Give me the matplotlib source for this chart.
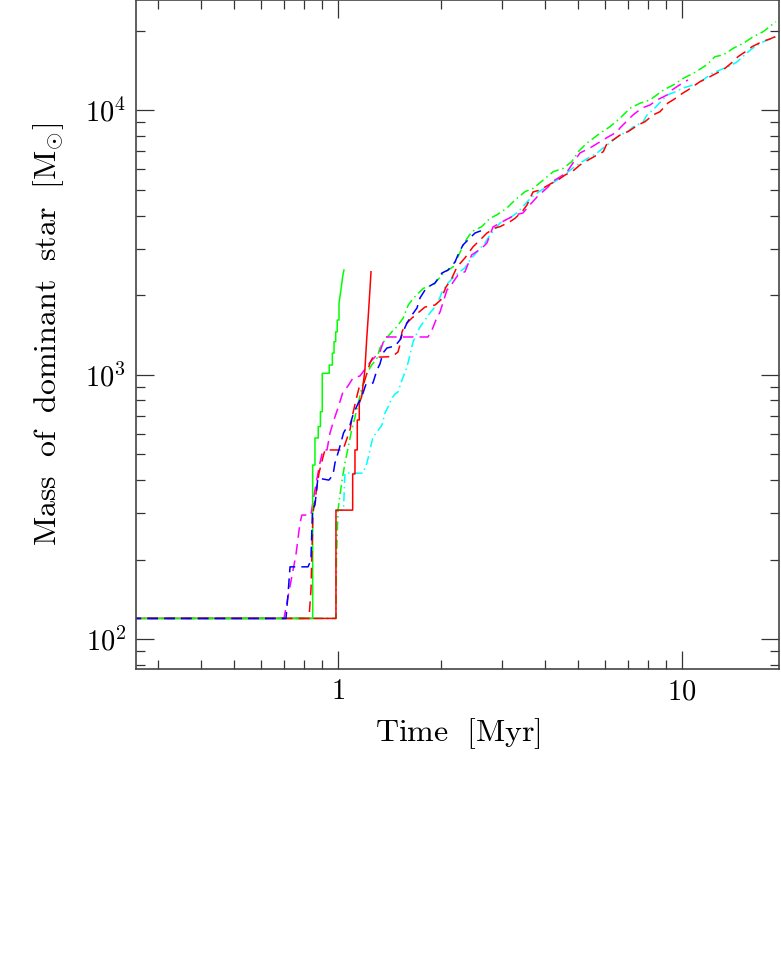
import numpy as np
import matplotlib
matplotlib.use('Agg')
import matplotlib.pyplot as plt
from matplotlib.ticker import LogLocator, FixedLocator, FuncFormatter, NullFormatter

plt.rcParams['mathtext.fontset'] = 'cm'
plt.rcParams['font.family'] = 'serif'

# Mass of the dominant star [Msun] vs time [Myr]
red_solid_t = [0.25, 0.9887, 0.9887, 1.1057, 1.1057, 1.1227, 1.1227, 1.1402, 1.1402, 1.1555, 1.1555,
               1.174, 1.200, 1.214, 1.227, 1.241, 1.250]
red_solid_m = [120, 120, 308, 308, 422, 422, 520, 520, 675, 675, 780, 826, 1043, 1354, 1658, 2092, 2454]

green_solid_t = [0.25, 0.846, 0.846, 0.859, 0.859, 0.878, 0.878, 0.891, 0.891, 0.902, 0.902, 0.945, 0.945,
                 0.965, 0.965, 0.976, 0.976, 0.987, 0.987, 0.997, 0.997, 1.009, 1.009, 1.022, 1.034, 1.043]
green_solid_m = [120, 120, 456, 456, 577, 577, 637, 637, 725, 725, 1013, 1013, 1089, 1089, 1208, 1208,
                 1334, 1334, 1454, 1454, 1611, 1611, 1862, 2093, 2350, 2490]

blue_t = [0.25, 0.7075, 0.717, 0.727, 0.820, 0.836, 0.845, 0.859, 0.876, 0.943, 0.969, 0.982, 1.002, 1.027,
          1.040, 1.064, 1.086, 1.108, 1.123, 1.148, 1.174, 1.209, 1.266, 1.301, 1.327, 1.354, 1.391, 1.468,
          1.517, 1.548, 1.590, 1.644, 1.700, 1.735, 1.794, 1.830, 1.918, 2.010, 2.093, 2.193, 2.237, 2.313,
          2.424, 2.507, 2.645]
blue_m = [120, 120, 147, 188, 188, 199, 308, 322, 407, 400, 418, 464, 506, 567, 603, 635, 646, 705, 736,
          782, 824, 923, 931, 1043, 1099, 1209, 1263, 1285, 1354, 1451, 1570, 1683, 1788, 1952, 2092, 2147,
          2224, 2426, 2490, 2670, 2838, 3096, 3290, 3436, 3527]

magenta_t = [0.25, 0.698, 0.727, 0.756, 0.777, 0.787, 0.836, 0.849, 0.869, 0.888, 0.906, 0.931, 0.950,
             0.975, 1.002, 1.036, 1.071, 1.108, 1.161, 1.214, 1.258, 1.327, 1.372, 1.438, 1.623, 1.830,
             1.880, 1.931, 1.984, 2.078, 2.121, 2.237, 2.345, 2.452, 2.628, 2.716, 2.828, 2.963, 3.277,
             3.457, 3.575, 3.797, 4.087, 4.282, 4.428, 4.640, 4.831, 5.063, 5.413, 6.106, 6.485, 6.616,
             7.218, 7.666, 8.088, 8.476, 9.064, 9.372, 9.754, 10.43]
magenta_m = [120, 120, 159, 208, 275, 295, 295, 336, 400, 464, 520, 520, 603, 675, 749, 861, 907, 973,
             990, 1070, 1138, 1220, 1390, 1390, 1390, 1390, 1477, 1612, 1728, 2092, 2153, 2384, 2454, 2838,
             3016, 3150, 3621, 3749, 4019, 4090, 4309, 4702, 5129, 5452, 5596, 5845, 6322, 6898, 7205,
             7925, 8279, 8573, 9599, 10200, 10470, 10940, 11420, 11930, 12360, 13020]

green_dd_t = [0.25, 0.989, 0.992, 1.002, 1.027, 1.050, 1.073, 1.098, 1.123, 1.148, 1.177, 1.209, 1.250,
              1.301, 1.327, 1.372, 1.435, 1.484, 1.551, 1.604, 1.659, 1.774, 1.896, 2.028, 2.168, 2.345,
              2.452, 2.622, 2.772, 2.899, 3.099, 3.277, 3.504, 3.704, 3.960, 4.234, 4.527, 4.788, 5.005,
              5.294, 5.788, 6.188, 6.616, 7.073, 7.564, 8.088, 8.843, 9.454, 10.11, 10.81, 11.82, 12.50,
              13.21, 14.13, 15.11, 16.15, 17.27, 18.26, 18.8]
green_dd_m = [120, 120, 199, 308, 390, 464, 533, 618, 692, 782, 899, 998, 1080, 1157, 1263, 1354, 1451,
              1516, 1640, 1836, 1946, 2123, 2185, 2420, 2563, 3186, 3475, 3630, 3906, 4019, 4261, 4580,
              4924, 5072, 5452, 5861, 6036, 6393, 6976, 7503, 8185, 8670, 9329, 10180, 10630, 10940,
              11930, 12460, 13210, 13800, 14840, 15950, 16190, 17160, 17920, 18980, 19830, 21010, 21600]

red_dash_t = [0.25, 0.8253, 0.8364, 0.8476, 0.8706, 0.8824, 0.9064, 0.9186, 1.0361, 1.0858, 1.1079,
              1.1303, 1.1532, 1.1923, 1.2414, 1.2665, 1.3273, 1.4003, 1.4479, 1.4971, 1.5172, 1.5378,
              1.5689, 1.6443, 1.7940, 1.9181, 1.9929, 2.0645, 2.1348, 2.2224, 2.3429, 2.4716, 2.5923,
              2.7166, 2.8656, 2.9630, 3.1686, 3.2765, 3.4337, 3.5506, 3.6961, 3.8732, 4.1973, 4.3692,
              4.5787, 4.7981, 5.0625, 5.1653, 5.6730, 5.9155, 6.0760, 6.3139, 6.7506, 6.9803, 7.4642,
              7.8218, 8.2523, 8.6479, 9.1228, 9.4327, 10.088, 10.431, 11.303, 11.845, 12.665, 13.183,
              14.100, 14.579, 15.588, 16.011, 17.120, 18.061, 19.181]
red_dash_m = [120, 120, 154, 300, 377, 425, 489, 520, 520, 619, 717, 803, 891, 931, 1108, 1167, 1167,
              1170, 1178, 1220, 1296, 1451, 1543, 1640, 1804, 1836, 1918, 2148, 2283, 2556, 2764, 3042,
              3233, 3436, 3589, 3630, 3791, 3905, 4136, 4385, 4910, 4996, 5310, 5451, 5692, 5858, 6210,
              6320, 6775, 6972, 7522, 7721, 8206, 8299, 8799, 9055, 9599, 9878, 10656, 10937, 11625,
              11932, 12828, 13213, 13836, 14202, 15267, 15945, 16904, 17397, 18171, 18604, 19262]

cyan_t = [0.25, 0.9887, 0.9887, 1.0396, 1.0501, 1.1005, 1.1844, 1.2165, 1.2414, 1.2665, 1.3009, 1.3451,
          1.3725, 1.4003, 1.4383, 1.4674, 1.4971, 1.5378, 1.5902, 1.6224, 1.6553, 1.7002, 1.7347, 1.7940,
          1.8545, 1.9181, 1.9572, 2.0114, 2.0783, 2.1491, 2.2373, 2.3429, 2.4245, 2.5407, 2.6805, 2.7717,
          2.9045, 2.9630, 3.1686, 3.3430, 3.5506, 3.6715, 3.8732, 4.1414, 4.4281, 4.8303, 5.0625, 5.6730,
          5.9155, 6.6163, 6.9338, 7.2180, 7.7179, 7.9276, 8.2523, 9.0646, 9.5611, 10.088, 11.077, 12.331,
          12.923, 13.819, 14.482, 15.588, 16.118, 17.235, 18.061, 18.799]
cyan_m = [120, 120, 308, 308, 425, 425, 425, 464, 520, 582, 608, 646, 717, 755, 817, 846, 861, 956, 1070,
          1188, 1330, 1439, 1516, 1611, 1713, 1804, 1885, 2056, 2204, 2302, 2426, 2534, 2716, 2912, 3150,
          3377, 3621, 3749, 3916, 4126, 4501, 4701, 4953, 5219, 5546, 6052, 6320, 6896, 7203, 8064, 8277,
          8645, 9030, 9599, 10026, 11424, 11726, 12143, 12572, 13836, 14202, 14713, 15234, 16612, 17200,
          18127, 18604, 18930]

dash = (7, 4)
dashdot = (6, 2.5, 1, 2.5)
lw = 1.1

fig = plt.figure(figsize=(7.81, 9.55), dpi=100)
ax = fig.add_axes([136 / 781, 286.5 / 955, 643 / 781, 668 / 955])

ax.plot(cyan_t, cyan_m, color='#00ffff', lw=lw, dashes=dashdot)
ax.plot(green_dd_t, green_dd_m, color='#00ff00', lw=lw, dashes=dashdot)
ax.plot(magenta_t, magenta_m, color='#ff00ff', lw=lw, dashes=dash)
ax.plot(red_solid_t, red_solid_m, color='#ff0000', lw=lw)
ax.plot(green_solid_t, green_solid_m, color='#00ff00', lw=lw)
ax.plot(red_dash_t, red_dash_m, color='#ff0000', lw=lw, dashes=dash)
ax.plot(blue_t, blue_m, color='#0000ff', lw=lw, dashes=dash)

ax.set_xscale('log')
ax.set_yscale('log')
ax.set_xlim(0.2593, 19.18)
ax.set_ylim(77.6, 26000)

ax.xaxis.set_major_locator(FixedLocator([1, 10]))
ax.xaxis.set_major_formatter(FuncFormatter(lambda v, p: r'$\mathrm{%d}$' % round(v)))
ax.xaxis.set_minor_locator(LogLocator(base=10, subs=np.arange(2, 10), numticks=20))
ax.xaxis.set_minor_formatter(NullFormatter())
ax.yaxis.set_major_locator(LogLocator(base=10, numticks=10))
ax.yaxis.set_major_formatter(FuncFormatter(lambda v, p: r'$10^{%d}$' % round(np.log10(v))))
ax.yaxis.set_minor_locator(LogLocator(base=10, subs=np.arange(2, 10), numticks=20))
ax.yaxis.set_minor_formatter(NullFormatter())

ax.tick_params(which='both', direction='in', top=True, right=True, color='#333333', width=0.9)
ax.tick_params(which='major', length=13, labelsize=20.5, pad=7)
ax.tick_params(which='minor', length=6.5)
for s in ax.spines.values():
    s.set_color('#444444')
    s.set_linewidth(1.2)

ax.set_xlabel(r'$\mathrm{Time\ \ [Myr]}$', fontsize=23, labelpad=8)
ax.set_ylabel(r'$\mathrm{Mass\ \ of\ \ dominant\ \ star\ \ [M_{\odot}]}$', fontsize=23, labelpad=14)

fig.savefig('out.png', dpi=100)
